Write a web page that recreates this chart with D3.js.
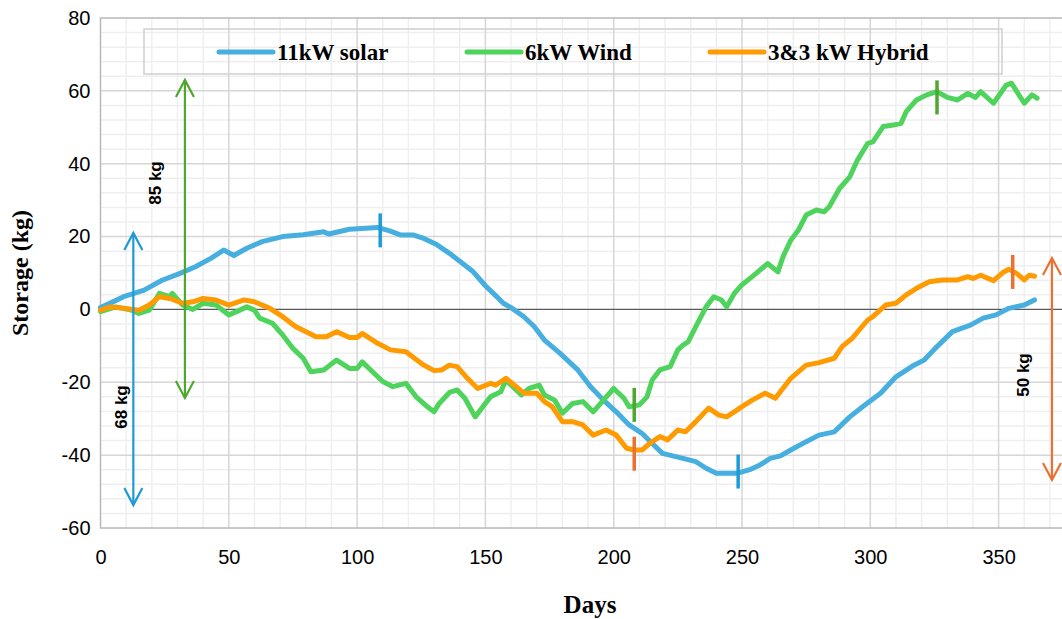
<!DOCTYPE html>
<html>
<head>
<meta charset="utf-8">
<script src="https://cdn.jsdelivr.net/npm/d3@7"></script>
<style>
  html, body { margin: 0; padding: 0; background: #fff; }
  svg { display: block; }
</style>
</head>
<body>
<svg id="chart" width="1062" height="619"></svg>
<script>
// Cumulative hydrogen storage over a year, [day, kg]
const solarStorage = [
  [0,0.5],[4,1.8],[9,3.5],[17,5.3],[24,8],[31,9.9],[37,11.7],[43,14],[48,16.3],[52,14.8],
  [57,16.8],[63,18.6],[71,20],[79,20.5],[87,21.3],[89,20.7],[97,22],[108,22.5],[113,21.5],
  [117,20.4],[122,20.4],[126,19.5],[131,17.8],[136,15.4],[141,12.7],[145,10.5],[150,6.5],
  [154,3.8],[157,1.7],[160,0.5],[165,-2],[169,-4.7],[173,-8.4],[179,-12],[186,-16.6],
  [191,-21.2],[196,-24.9],[201,-28.1],[206,-31.7],[211,-34],[215,-36.8],[219,-39.5],
  [227,-40.9],[232,-41.8],[236,-43.6],[240,-45],[248,-45],[253,-44],[257,-42.7],[261,-40.9],
  [265,-40.2],[269,-38.6],[275,-36.3],[280,-34.5],[286,-33.6],[292,-29.5],[297,-26.7],
  [304,-23],[310,-18.5],[317,-15.3],[321,-13.9],[326,-10.2],[332,-6.1],[339,-4.3],
  [344,-2.4],[349,-1.5],[354,0.3],[360,1.2],[364,2.6]
];
const windStorage = [
  [0,-0.6],[6,0.7],[12,-0.2],[15,-1.1],[19,-0.2],[23,4.4],[27,3.5],[28,4.4],[32,1.2],[36,0],
  [40,1.7],[45,1.2],[50,-1.5],[53,-0.6],[57,0.7],[60,-0.2],[62,-2.4],[67,-3.8],[71,-7],
  [75,-10.7],[79,-13.4],[82,-17.1],[87,-16.6],[92,-13.9],[97,-16.2],[100,-16.2],[102,-14.4],
  [106,-17.1],[110,-19.8],[114,-21.2],[119,-20.3],[123,-24],[127,-26.5],[130,-28.1],
  [132,-25.8],[136,-22.8],[139,-22.1],[142,-24.4],[146,-29.5],[149,-26.7],[152,-24],
  [156,-22.6],[158,-19.4],[164,-23.5],[167,-21.7],[171,-20.8],[173,-23.5],[177,-24.9],
  [180,-28.5],[184,-25.8],[188,-25.3],[192,-28.1],[196,-24.9],[200,-21.7],[204,-24.4],
  [206,-26.7],[210,-26.2],[213,-24],[215,-19.4],[218,-16.6],[222,-15.7],[225,-11.1],
  [227,-9.8],[229,-8.9],[232,-4.7],[236,0.7],[239,3.5],[242,2.6],[244,0.7],[247,4.4],
  [250,6.8],[254,9],[257,10.8],[260,12.6],[264,10.3],[266,14.5],[269,19],[272,21.8],
  [275,25.9],[279,27.3],[282,26.8],[284,28.2],[288,33.2],[292,36.4],[295,41],[299,45.6],
  [301,46],[305,50.2],[309,50.6],[312,51.1],[314,54.3],[318,57.5],[322,58.9],[326,59.8],
  [330,58.2],[334,57.5],[338,59.3],[341,58.2],[343,59.8],[348,56.6],[353,61.6],[355,62.1],
  [360,56.6],[363,58.9],[365,58]
];
const hybridStorage = [
  [0,-0.2],[4,0.7],[9,0.3],[15,-0.2],[19,1.2],[23,3.5],[27,3],[32,1.7],[36,2.1],[40,3],
  [45,2.6],[50,1.2],[56,2.6],[60,2.1],[66,0.3],[71,-2],[76,-4.7],[84,-7.5],[88,-7.5],
  [92,-6.1],[97,-7.7],[100,-7.7],[102,-6.6],[108,-9.3],[113,-11.1],[119,-11.6],[126,-15.3],
  [130,-16.8],[133,-16.6],[136,-15.3],[139,-15.7],[143,-18.9],[147,-21.7],[152,-20.3],
  [154,-20.8],[158,-18.9],[162,-21.2],[165,-23],[170,-23],[173,-25.3],[176,-26.7],
  [180,-30.8],[184,-30.8],[188,-31.7],[192,-34.5],[197,-33.1],[201,-34.5],[205,-38.1],
  [208,-38.6],[211,-38.6],[214,-36.8],[218,-34.9],[221,-35.8],[225,-33.1],[228,-33.6],
  [232,-30.8],[237,-27.1],[241,-29],[244,-29.5],[247,-28.1],[250,-26.7],[254,-24.9],
  [259,-23],[263,-24.4],[269,-18.9],[275,-15.3],[280,-14.6],[286,-13.4],[289,-10.2],
  [293,-7.9],[299,-2.9],[301,-2],[306,1.2],[310,1.7],[314,4],[318,5.8],[323,7.6],
  [328,8.1],[334,8.1],[338,9],[340,8.5],[343,9.4],[348,7.9],[352,10.3],[354,11],
  [357,9.9],[360,8.1],[362,9.4],[364,9.1]
];

const seriesNames = ["11kW solar", "6kW Wind", "3&3 kW Hybrid"];
const xTickValues = [0, 50, 100, 150, 200, 250, 300, 350];
const yTickValues = [-60, -40, -20, 0, 20, 40, 60, 80];

// Extremes marked on each curve: [day, kg]
const solarMarks = [[109, 21.7], [248.5, -44.5]];
const windMarks = [[208, -26.2], [326, 58.2]];
const hybridMarks = [[208, -39.6], [355.5, 10.3]];

// Swing ranges: [day, top kg, bottom kg], label
const solarRange = [12.8, 21, -53.7];
const windRange = [32.9, 63, -24.3];
const hybridRange = [370.8, 14.1, -46.8];
const rangeLabels = ["68 kg", "85 kg", "50 kg"];

const lineColors = ["#47AEE0", "#4ED35C", "#FF9A00"];
const markColors = ["#1E9AD6", "#4EA72E", "#E97132"];

const svg = d3.select("#chart");
const x = d3.scaleLinear().domain([0, 380]).range([100.5, 100.5 + 380 * 2.566]);
const y = d3.scaleLinear().domain([-60, 80]).range([528, 18]);

const plotLeft = x(0), plotRight = x(380), plotTop = y(80), plotBottom = y(-60);

// Minor gridlines
const minorX = d3.range(10, 380, 10).filter(d => d % 50 !== 0);
const minorY = d3.range(-60, 80, 4).filter(d => d % 20 !== 0);
const grid = svg.append("g");
grid.selectAll(".mx").data(minorX).enter().append("line")
  .attr("x1", d => x(d)).attr("x2", d => x(d)).attr("y1", plotTop).attr("y2", plotBottom)
  .attr("stroke", "#efefef").attr("stroke-width", 1.5);
grid.selectAll(".my").data(minorY).enter().append("line")
  .attr("x1", plotLeft).attr("x2", plotRight).attr("y1", d => y(d)).attr("y2", d => y(d))
  .attr("stroke", "#efefef").attr("stroke-width", 1.5);
// Major gridlines
grid.selectAll(".Mx").data(d3.range(50, 380, 50)).enter().append("line")
  .attr("x1", d => x(d)).attr("x2", d => x(d)).attr("y1", plotTop).attr("y2", plotBottom)
  .attr("stroke", "#d6d6d6").attr("stroke-width", 1.5);
grid.selectAll(".My").data(yTickValues.filter(d => d !== 0 && d !== -60 && d !== 80)).enter().append("line")
  .attr("x1", plotLeft).attr("x2", plotRight).attr("y1", d => y(d)).attr("y2", d => y(d))
  .attr("stroke", "#d6d6d6").attr("stroke-width", 1.5);

// Plot frame
svg.append("rect")
  .attr("x", plotLeft).attr("y", plotTop)
  .attr("width", plotRight - plotLeft).attr("height", plotBottom - plotTop)
  .attr("fill", "none").attr("stroke", "#b8b8b8").attr("stroke-width", 1.5);

// Zero line
svg.append("line")
  .attr("x1", plotLeft).attr("x2", plotRight).attr("y1", y(0)).attr("y2", y(0))
  .attr("stroke", "#5a5a5a").attr("stroke-width", 1.3);

// Axes
const plain = d => String(d);
const yAxis = d3.axisLeft(y).tickValues(yTickValues).tickFormat(plain).tickSize(0).tickPadding(10);
const gy = svg.append("g").attr("transform", `translate(${plotLeft},0)`).call(yAxis);
gy.select(".domain").remove();
gy.selectAll("text").attr("font-family", "Liberation Sans, Arial, sans-serif")
  .attr("font-size", 20).attr("fill", "#000");

const xAxis = d3.axisBottom(x).tickValues(xTickValues).tickFormat(plain).tickSize(0).tickPadding(22);
const gx = svg.append("g").attr("transform", `translate(0,${plotBottom})`).call(xAxis);
gx.select(".domain").remove();
gx.selectAll("text").attr("font-family", "Liberation Sans, Arial, sans-serif")
  .attr("font-size", 20).attr("fill", "#000");

// Axis titles
svg.append("text")
  .attr("transform", `translate(28,${(plotTop + plotBottom) / 2}) rotate(-90)`)
  .attr("text-anchor", "middle")
  .attr("font-family", "Liberation Serif, Times New Roman, serif")
  .attr("font-weight", "bold").attr("font-size", 24)
  .text("Storage (kg)");
svg.append("text")
  .attr("x", 590).attr("y", 613)
  .attr("text-anchor", "middle")
  .attr("font-family", "Liberation Serif, Times New Roman, serif")
  .attr("font-weight", "bold").attr("font-size", 25)
  .text("Days");

// Series lines
const line = d3.line().x(d => x(d[0])).y(d => y(d[1]));
const allSeries = [solarStorage, windStorage, hybridStorage];
svg.append("g").selectAll("path").data(allSeries).enter().append("path")
  .attr("d", line)
  .attr("fill", "none")
  .attr("stroke", (d, i) => lineColors[i])
  .attr("stroke-width", 5)
  .attr("stroke-linejoin", "round")
  .attr("stroke-linecap", "round");

// Extreme markers
const allMarks = [solarMarks, windMarks, hybridMarks];
allMarks.forEach((marks, i) => {
  svg.append("g").selectAll("line").data(marks).enter().append("line")
    .attr("x1", d => x(d[0])).attr("x2", d => x(d[0]))
    .attr("y1", d => y(d[1]) - 17).attr("y2", d => y(d[1]) + 17)
    .attr("stroke", markColors[i]).attr("stroke-width", 3.5);
});

// Double-headed range arrows
const ranges = [solarRange, windRange, hybridRange];
ranges.forEach((r, i) => {
  const g = svg.append("g").attr("stroke", markColors[i]).attr("stroke-width", 2.2).attr("fill", "none");
  const cx = x(r[0]), top = y(r[1]), bot = y(r[2]);
  g.append("line").attr("x1", cx).attr("x2", cx).attr("y1", top).attr("y2", bot);
  g.append("path").attr("d", `M${cx - 9},${top + 17}L${cx},${top}L${cx + 9},${top + 17}`);
  g.append("path").attr("d", `M${cx - 9},${bot - 17}L${cx},${bot}L${cx + 9},${bot - 17}`);
});

// Range labels
const labelPos = [[121, 407], [155, 183], [1023, 375]];
labelPos.forEach((p, i) => {
  svg.append("text")
    .attr("transform", `translate(${p[0]},${p[1]}) rotate(-90)`)
    .attr("text-anchor", "middle").attr("dy", "0.35em")
    .attr("font-family", "Liberation Sans, Arial, sans-serif")
    .attr("font-weight", "bold").attr("font-size", 17)
    .text(rangeLabels[i]);
});

// Legend
const legend = svg.append("g");
legend.append("rect")
  .attr("x", 144).attr("y", 29).attr("width", 858).attr("height", 45)
  .attr("fill", "none").attr("stroke", "#cfcfcf").attr("stroke-width", 1.5);
const legendX = [219, 467, 710];
seriesNames.forEach((name, i) => {
  legend.append("line")
    .attr("x1", legendX[i]).attr("x2", legendX[i] + 54)
    .attr("y1", 52).attr("y2", 52)
    .attr("stroke", lineColors[i]).attr("stroke-width", 5).attr("stroke-linecap", "round");
  legend.append("text")
    .attr("x", legendX[i] + 58).attr("y", 60)
    .attr("font-family", "Liberation Serif, Times New Roman, serif")
    .attr("font-weight", "bold").attr("font-size", 23)
    .text(name);
});
</script>
</body>
</html>
